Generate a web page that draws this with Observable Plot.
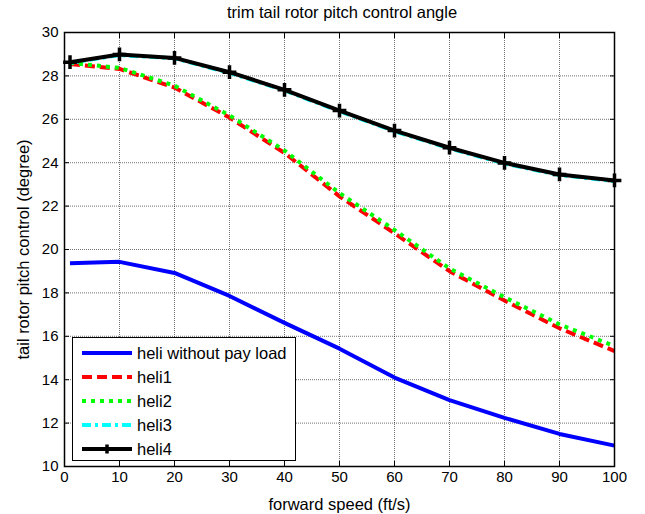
<!DOCTYPE html>
<html><head><meta charset="utf-8">
<script src="https://cdn.jsdelivr.net/npm/d3@7"></script>
<script src="https://cdn.jsdelivr.net/npm/@observablehq/plot@0.6"></script>
<style>
body{margin:0;background:#fff;font-family:"Liberation Sans",Arial,sans-serif;}
#wrap{position:relative;width:645px;height:514px;}
#title{position:absolute;left:64px;width:556px;top:3px;text-align:center;font-size:16.5px;}
#legend{position:absolute;left:72px;top:337px;width:224px;height:124px;border:1px solid #000;background:#fff;box-sizing:border-box;font-size:16.5px;}
.row{position:absolute;left:8px;height:20px;display:flex;align-items:center;}
.row span{margin-left:4px;}
</style>
</head><body>
<div id="wrap"><div id="title">trim tail rotor pitch control angle</div><div id="chart" style="position:absolute;top:22px;left:0"></div><div id="legend"></div></div>
<script>
const speed = [1, 10, 20, 30, 40, 50, 60, 70, 80, 90, 100];
const noLoad = [19.37, 19.43, 18.92, 17.86, 16.62, 15.43, 14.1, 13.06, 12.24, 11.5, 10.96];
const heli1 = [28.55, 28.32, 27.46, 26.08, 24.45, 22.45, 20.75, 19.0, 17.65, 16.37, 15.32];
const heli2 = [28.6, 28.37, 27.55, 26.18, 24.56, 22.6, 20.9, 19.13, 17.8, 16.55, 15.55];
const heli3 = [28.6, 28.96, 28.81, 28.14, 27.33, 26.37, 25.45, 24.66, 23.96, 23.43, 23.15];
const heli4 = [28.63, 28.99, 28.83, 28.17, 27.36, 26.4, 25.48, 24.69, 23.99, 23.46, 23.18];
const ticksX = [0, 10, 20, 30, 40, 50, 60, 70, 80, 90, 100];
const ticksY = [10, 12, 14, 16, 18, 20, 22, 24, 26, 28, 30];
const names = ["heli without pay load", "heli1", "heli2", "heli3", "heli4"];
const colors = ["#0000ff", "#ff0000", "#00ff00", "#00ffff", "#000000"];
const dashes = [null, "10,5", "4,5", "9,4,3,4", null];

const series = [noLoad, heli1, heli2, heli3, heli4];
const rows = [];
series.forEach((vals, i) => vals.forEach((v, j) => rows.push({name: names[i], speed: speed[j], value: v})));
const of = n => rows.filter(d => d.name === n);

const lineMarks = names.map((n, i) => Plot.line(of(n), {x: "speed", y: "value", stroke: colors[i], strokeWidth: 4, strokeDasharray: dashes[i], strokeLinecap: "butt"}));

const chart = Plot.plot({
  width: 645, height: 492,
  marginTop: 10, marginLeft: 64, marginRight: 31, marginBottom: 48,
  x: {domain: [0, 100]}, y: {domain: [10, 30]},
  style: {fontFamily: "'Liberation Sans', Arial, sans-serif", fontSize: "16px", background: "white", color: "black", overflow: "visible"},
  marks: [
    Plot.gridX(ticksX, {stroke: "#000", strokeOpacity: 0.55, strokeDasharray: "1,1"}),
    Plot.gridY(ticksY, {stroke: "#000", strokeOpacity: 0.55, strokeDasharray: "1,1"}),
    ...lineMarks,
    Plot.dot(of("heli4"), {x: "speed", y: "value", symbol: "plus", r: 4.5, stroke: "#000", strokeWidth: 3.5}),
    Plot.frame({stroke: "#000", strokeWidth: 1.5}),
    Plot.axisX(ticksX, {tickSize: 0, tickPadding: 5, fontSize: 15, label: null}),
    Plot.axisX(ticksX, {tickSize: 0, tickFormat: () => "", label: "forward speed (ft/s)", fontSize: 16.5, labelAnchor: "center", labelOffset: 43, labelArrow: "none"}),
    Plot.axisX(ticksX, {anchor: "top", tickSize: -5, tickFormat: () => "", label: null}),
    Plot.axisX(ticksX, {anchor: "bottom", tickSize: -5, tickFormat: () => "", label: null}),
    Plot.axisY(ticksY, {tickSize: 0, tickPadding: 6, fontSize: 15, label: null}),
    Plot.axisY(ticksY, {tickSize: 0, tickFormat: () => "", label: "tail rotor pitch control (degree)", fontSize: 16.5, labelAnchor: "center", labelOffset: 47, labelArrow: "none"}),
    Plot.axisY(ticksY, {anchor: "left", tickSize: -5, tickFormat: () => "", label: null}),
    Plot.axisY(ticksY, {anchor: "right", tickSize: -5, tickFormat: () => "", label: null})
  ]
});
document.getElementById("chart").appendChild(chart);

const leg = document.getElementById("legend");
names.forEach((n, i) => {
  const r = document.createElement("div");
  r.className = "row";
  r.style.top = (5 + i * 24) + "px";
  let marker = i === 4 ? `<path d="M26,5.5v9M21.5,10h9" stroke="#000" stroke-width="3.5"/>` : "";
  r.innerHTML = `<svg width="52" height="20"><line x1="1" y1="10" x2="51" y2="10" stroke="${colors[i]}" stroke-width="4" ${dashes[i] ? `stroke-dasharray="${dashes[i]}"` : ""}/>${marker}</svg><span>${n}</span>`;
  leg.appendChild(r);
});
</script>
</body></html>
